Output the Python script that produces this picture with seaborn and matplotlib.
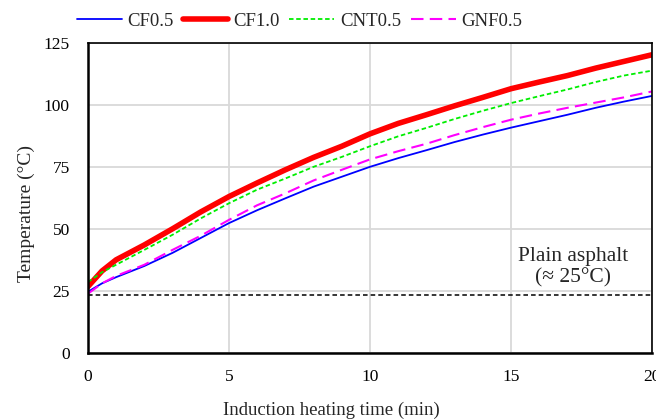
import matplotlib
matplotlib.use("Agg")
import matplotlib.pyplot as plt
import seaborn as sns
import pandas as pd
from matplotlib.ticker import MultipleLocator

# induction heating time (min)
time_min = [0, 0.5, 1, 2, 3, 4, 5, 6, 7, 8, 9, 10, 11, 12, 13, 14, 15, 16, 17, 18, 19, 20]

# temperature (°C)
cf05 = [24.6, 28.0, 30.5, 35.0, 40.3, 46.3, 52.3, 57.5, 62.3, 67.0, 71.0, 75.0,
        78.5, 81.7, 85.0, 88.0, 90.8, 93.4, 96.0, 98.8, 101.3, 103.6]
cf10 = [26.7, 33.0, 37.5, 43.5, 50.0, 56.8, 63.0, 68.5, 73.8, 78.8, 83.3, 88.3,
        92.5, 96.0, 99.6, 103.0, 106.5, 109.2, 111.8, 114.8, 117.5, 120.2]
cnt05 = [28.5, 32.5, 35.5, 41.5, 47.6, 54.2, 60.3, 65.8, 70.3, 75.0, 79.0, 83.3,
         87.3, 90.7, 94.3, 97.6, 100.7, 103.5, 106.2, 109.2, 111.8, 113.8]
gnf05 = [23.8, 28.0, 31.0, 35.5, 41.5, 47.2, 53.6, 59.5, 64.3, 69.5, 73.8, 78.0,
         81.3, 84.3, 87.8, 91.0, 94.0, 96.5, 98.8, 100.9, 103.0, 105.4]

plain_asphalt = 23.5

series = {"CF0.5": cf05, "CF1.0": cf10, "CNT0.5": cnt05, "GNF0.5": gnf05}
styles = {
    "CF0.5": dict(color="#0000ff", lw=1.3, ls="-"),
    "CF1.0": dict(color="#ff0000", lw=4.0, ls="-"),
    "CNT0.5": dict(color="#00ee00", lw=1.3, ls=(0, (2.5, 1.5))),
    "GNF0.5": dict(color="#ff00ff", lw=1.5, ls=(0, (6, 3))),
}

sns.set_style("white")
plt.rcParams["font.family"] = ["Liberation Serif", "DejaVu Serif"]

fig = plt.figure(figsize=(6.56, 4.2), dpi=100)
ax = fig.add_axes([0.134, 0.16, 0.86, 0.738])

for name, vals in series.items():
    df = pd.DataFrame({"time": time_min, "temp": vals})
    st = styles[name]
    sns.lineplot(data=df, x="time", y="temp", ax=ax, color=st["color"],
                 linewidth=st["lw"], linestyle=st["ls"], label=name)

ax.axhline(plain_asphalt, color="black", lw=1.1, ls=(0, (3, 2)))
ax.text(17.2, 26.3, "Plain asphalt\n(≈ 25°C)", ha="center", va="bottom",
        fontsize=15.5, linespacing=1.15)

ax.set_xlim(0, 20)
ax.set_ylim(0, 125)
ax.xaxis.set_major_locator(MultipleLocator(5))
ax.xaxis.set_minor_locator(MultipleLocator(1))
ax.yaxis.set_major_locator(MultipleLocator(25))
ax.yaxis.set_minor_locator(MultipleLocator(5))
ax.tick_params(axis="both", which="both", direction="in", colors="black",
               labelsize=12.5)
ax.tick_params(axis="x", which="major", length=6, width=1.2, pad=12)
ax.tick_params(axis="x", which="minor", length=4, width=1.2)
ax.tick_params(axis="y", which="major", length=6, width=1.2, pad=13)
ax.tick_params(axis="y", which="minor", length=6, width=1.2)
ax.grid(True, which="major", color="#d9d9d9", lw=1.3)
ax.set_axisbelow(True)
for s in ax.spines.values():
    s.set_color("black")
    s.set_linewidth(1.2)
ax.spines["left"].set_linewidth(1.8)
ax.spines["bottom"].set_linewidth(1.8)

ax.set_xlabel("Induction heating time (min)", fontsize=13.5)
ax.set_ylabel("Temperature (°C)", fontsize=14)
ax.xaxis.set_label_coords(0.431, -0.158)
ax.yaxis.set_label_coords(-0.094, 0.45)

ax.legend(loc="lower center", bbox_to_anchor=(0.375, 1.0), ncol=4, frameon=False,
          fontsize=13.5, handlelength=2.4, columnspacing=0.5, handletextpad=0.3,
          borderaxespad=0.3)

fig.savefig("out.png", dpi=100)
